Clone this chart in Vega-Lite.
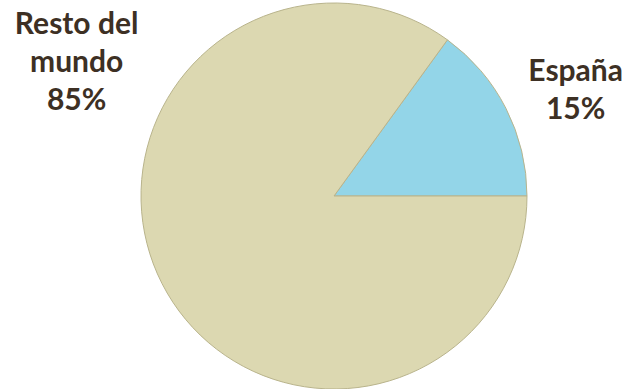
{
  "$schema": "https://vega.github.io/schema/vega-lite/v6.json",
  "autosize": {"type": "none"},
  "width": 386,
  "height": 386,
  "padding": {"left": 141, "top": 3, "right": 96, "bottom": 0},
  "background": "white",
  "config": {"view": {"stroke": null}},
  "data": {
    "values": [
      {"region": "España", "pct": 15, "label": "España\n15%"},
      {"region": "Resto del mundo", "pct": 85, "label": "Resto del\nmundo\n85%"}
    ]
  },
  "encoding": {
    "theta": {"field": "pct", "type": "quantitative", "stack": true, "scale": {"range": [0.6283, 6.9115]}},
    "order": {"field": "pct", "type": "quantitative", "sort": "ascending"}
  },
  "layer": [
    {
      "mark": {"type": "arc", "stroke": "#b9b48c", "strokeWidth": 1},
      "encoding": {
        "color": {
          "field": "region", "type": "nominal", "legend": null,
          "scale": {"domain": ["España", "Resto del mundo"], "range": ["#93d5e8", "#dcd8b1"]}
        }
      }
    },
    {
      "mark": {"type": "text", "radius": 260, "dx": 10, "dy": -6, "font": "Lato", "fontWeight": "bold", "fontSize": 30, "lineHeight": 38, "lineBreak": "\n", "align": "center", "baseline": "middle", "color": "#3d3024"},
      "encoding": {
        "text": {"condition": {"test": "datum.region === 'España'", "field": "label"}, "value": ""}
      }
    },
    {
      "mark": {"type": "text", "radius": 290, "dx": 1, "dy": -303, "font": "Lato", "fontWeight": "bold", "fontSize": 30, "lineHeight": 38, "lineBreak": "\n", "align": "center", "baseline": "middle", "color": "#3d3024"},
      "encoding": {
        "text": {"condition": {"test": "datum.region === 'Resto del mundo'", "field": "label"}, "value": ""}
      }
    }
  ]
}
